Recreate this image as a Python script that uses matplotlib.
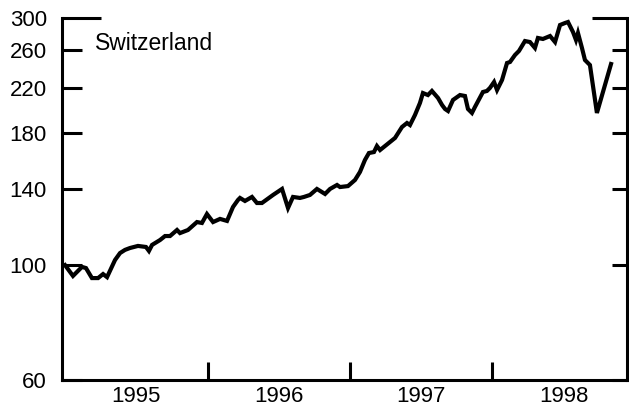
import matplotlib
matplotlib.use("Agg")
import matplotlib.pyplot as plt
import numpy as np

# Swiss equity index (log scale), decimal-year time axis
years = [
    1995.000, 1995.056, 1995.119, 1995.147, 1995.189, 1995.232, 1995.267, 1995.295,
    1995.351, 1995.386, 1995.421, 1995.456, 1995.512, 1995.568, 1995.589, 1995.611,
    1995.667, 1995.702, 1995.737, 1995.786, 1995.807, 1995.863, 1995.926, 1995.961,
    1995.996, 1996.039, 1996.088, 1996.137, 1996.179, 1996.214, 1996.228, 1996.263,
    1996.312, 1996.347, 1996.382, 1996.460, 1996.523, 1996.565, 1996.600, 1996.649,
    1996.677, 1996.719, 1996.768, 1996.825, 1996.860, 1996.909, 1996.930, 1996.986,
    1997.035, 1997.070, 1997.105, 1997.133, 1997.168, 1997.189, 1997.211, 1997.316,
    1997.365, 1997.400, 1997.421, 1997.456, 1997.491, 1997.512, 1997.547, 1997.575,
    1997.618, 1997.646, 1997.667, 1997.688, 1997.723, 1997.772, 1997.807, 1997.828,
    1997.856, 1997.877, 1997.933, 1997.961, 1997.982, 1998.011, 1998.032, 1998.067,
    1998.102, 1998.123, 1998.158, 1998.186, 1998.228, 1998.263, 1998.298, 1998.319,
    1998.354, 1998.404, 1998.439, 1998.474, 1998.509, 1998.530, 1998.565, 1998.586,
    1998.600, 1998.628, 1998.649, 1998.684, 1998.733, 1998.832,
]
index_values = [
    100.0, 95.3, 99.2, 98.7, 94.4, 94.4, 96.1, 94.8,
    102.3, 105.5, 107.0, 107.9, 108.9, 108.4, 106.5, 109.4,
    111.8, 113.8, 113.8, 116.9, 115.3, 116.9, 121.1, 120.6,
    125.5, 121.1, 122.8, 121.7, 129.5, 133.6, 134.8, 133.0,
    135.4, 131.8, 131.8, 136.6, 140.3, 128.9, 135.4, 134.8,
    135.4, 136.6, 140.3, 137.2, 140.3, 142.8, 141.5, 142.1,
    146.0, 151.3, 159.6, 164.6, 165.3, 169.8, 166.8, 176.0,
    184.8, 188.1, 186.4, 194.9, 205.6, 214.9, 213.0, 216.9,
    210.2, 203.8, 200.2, 198.4, 208.4, 213.0, 212.1, 200.2,
    196.7, 202.0, 215.9, 216.9, 219.8, 225.7, 217.8, 227.7,
    245.6, 246.7, 254.5, 259.1, 270.8, 269.6, 262.6, 274.5,
    273.3, 276.9, 269.6, 290.8, 293.4, 294.7, 281.9, 272.1,
    280.6, 262.6, 248.9, 243.4, 196.7, 244.5,
]
y_ticks = [60, 100, 140, 180, 220, 260, 300]
year_boundaries = [1996, 1997, 1998]
year_labels = ["1995", "1996", "1997", "1998"]
country = "Switzerland"

plt.rcParams["font.family"] = ["Liberation Sans", "DejaVu Sans"]

fig = plt.figure(figsize=(6.29, 4.11), dpi=100)
ax = fig.add_axes([0.0986, 0.0754, 0.8982, 0.8808])

ax.plot(years, index_values, color="black", lw=3.0, solid_joinstyle="miter")

ax.set_yscale("log")
ax.set_ylim(60, 300)
ax.set_xlim(1994.979, 1998.944)

ax.yaxis.set_major_locator(matplotlib.ticker.FixedLocator(y_ticks))
ax.yaxis.set_major_formatter(matplotlib.ticker.FixedFormatter([str(v) for v in y_ticks]))
ax.yaxis.set_minor_locator(matplotlib.ticker.NullLocator())

ax.set_xticks(year_boundaries)
ax.set_xticklabels([])
ax.set_xticks([1995.5, 1996.5, 1997.5, 1998.5], minor=True)
ax.set_xticklabels(year_labels, minor=True)

ax.tick_params(axis="y", which="major", direction="in", length=14.5, width=2.2,
               left=True, right=True, labelsize=16, pad=11)
ax.tick_params(axis="x", which="major", direction="in", length=13, width=2.2,
               labelsize=16)
ax.tick_params(axis="x", which="minor", length=0, labelsize=16, pad=4)

# Longer ticks at the top value on both sides
ticks = ax.yaxis.get_major_ticks()
ticks[-1].tick1line.set_markersize(28)
for t in ticks:
    t.tick2line.set_markersize(25 if t is ticks[-1] else 11)

for side in ["left", "right", "bottom"]:
    ax.spines[side].set_linewidth(2.2)
ax.spines["top"].set_visible(False)

ax.text(0.058, 0.96, country, transform=ax.transAxes, fontsize=16.5,
        ha="left", va="top")

fig.savefig("out.png", dpi=100)
